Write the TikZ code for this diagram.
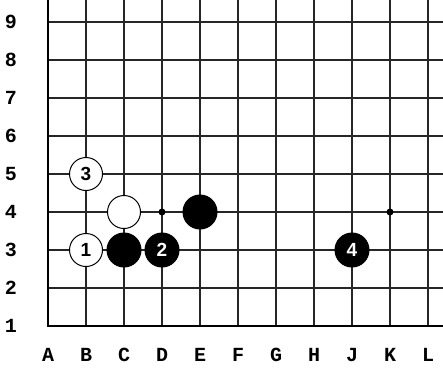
\documentclass[tikz,border=0pt]{standalone}
\usepackage{fontspec}
\setmainfont{Liberation Mono}
\newfontfamily\stonefont{Liberation Sans}
\begin{document}
\begin{tikzpicture}[x=1pt,y=1pt,
  gridline/.style={line width=1.3pt,black!85},
  edgeline/.style={line width=2.6pt,black},
  coordlabel/.style={font=\fontsize{20}{20}\selectfont\bfseries,inner sep=0pt},
  whitestone/.style={circle,draw=black,line width=1pt,fill=white,minimum size=33pt,inner sep=0pt,font=\stonefont\fontsize{19}{19}\selectfont\bfseries,text=black},
  blackstone/.style={circle,draw=black,line width=1pt,fill=black,minimum size=34pt,inner sep=0pt,font=\stonefont\fontsize{19}{19}\selectfont\bfseries,text=white},
  hoshi/.style={circle,fill=black,minimum size=7pt,inner sep=0pt}]
\useasboundingbox (0,0) rectangle (443,368);
\fill[white] (0,0) rectangle (443,368);
% grid
\foreach \c in {1,...,10} \draw[gridline] (48+38*\c,42) -- (48+38*\c,368);
\foreach \r in {2,...,9} \draw[gridline] (48,4+38*\r) -- (443,4+38*\r);
\draw[edgeline] (48,368) -- (48,42) -- (443,42);
% labels
\foreach \r in {1,...,9} \node[coordlabel] (row\r) at (11,4+38*\r) {\r};
\foreach \l [count=\c from 0] in {A,B,C,D,E,F,G,H,J,K,L}
  \node[coordlabel] (col\l) at (48+38*\c,13) {\l};
% hoshi
\node[hoshi] (hD4) at (162,156) {};
\node[hoshi] (hK4) at (390,156) {};
% stones
\node[whitestone] (B3) at (86,118) {1};
\node[whitestone] (B5) at (86,194) {3};
\node[whitestone] (C4) at (124,156) {};
\node[blackstone] (C3) at (124,118) {};
\node[blackstone] (D3) at (162,118) {2};
\node[blackstone] (E4) at (200,156) {};
\node[blackstone] (J3) at (352,118) {4};
\end{tikzpicture}
\end{document}
